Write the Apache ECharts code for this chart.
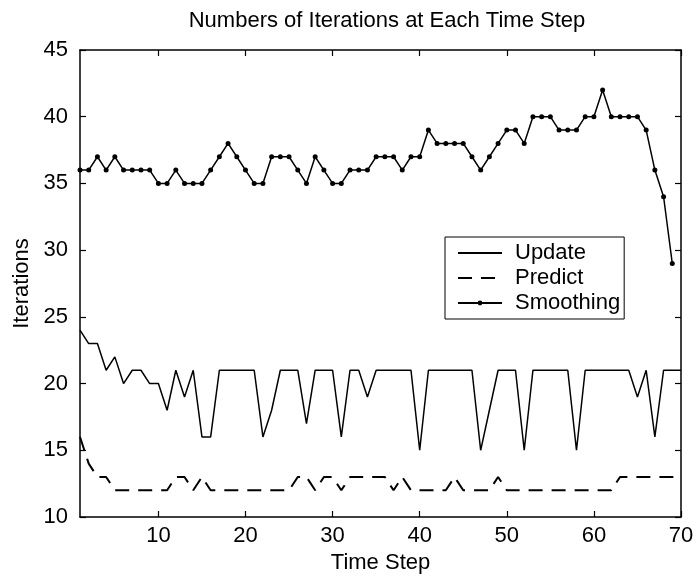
<!DOCTYPE html>
<html>
<head>
<meta charset="utf-8">
<script src="https://cdn.jsdelivr.net/npm/echarts@6/dist/echarts.min.js"></script>
<style>
html,body{margin:0;padding:0;background:#fff;}
#chart{width:700px;height:582px;}
</style>
</head>
<body>
<div id="chart"></div>
<script>
const timeSteps = [1,2,3,4,5,6,7,8,9,10,11,12,13,14,15,16,17,18,19,20,21,22,23,24,25,26,27,28,29,30,31,32,33,34,35,36,37,38,39,40,41,42,43,44,45,46,47,48,49,50,51,52,53,54,55,56,57,58,59,60,61,62,63,64,65,66,67,68,69,70];

const updateIter = [24,23,23,21,22,20,21,21,20,20,
  18,21,19,21,16,16,21,21,21,21,
  21,16,18,21,21,21,17,21,21,21,
  16,21,21,19,21,21,21,21,21,15,
  21,21,21,21,21,21,15,18,21,21,
  21,15,21,21,21,21,21,15,21,21,
  21,21,21,21,19,21,16,21,21,21];

const predictIter = [16,14,13,13,12,12,12,12,12,12,
  12,13,13,12,13,12,12,12,12,12,
  12,12,12,12,12,13,13,12,13,13,
  12,13,13,13,13,13,12,13,12,12,
  12,12,12,13,12,12,12,12,13,12,
  12,12,12,12,12,12,12,12,12,12,
  12,12,13,13,13,13,13,13,13,13];

const smoothingIter = [36,36,37,36,37,36,36,36,36,35,
  35,36,35,35,35,36,37,38,37,36,
  35,35,37,37,37,36,35,37,36,35,
  35,36,36,36,37,37,37,36,37,37,
  39,38,38,38,38,37,36,37,38,39,
  39,38,40,40,40,39,39,39,40,40,
  42,40,40,40,40,39,36,34,29];

const xTicks = [10,20,30,40,50,60,70];
const yTicks = [10,15,20,25,30,35,40,45];
const seriesNames = ['Update','Predict','Smoothing'];
const titleText = 'Numbers of Iterations at Each Time Step';
const xName = 'Time Step';
const yName = 'Iterations';

const FONT = 'Liberation Sans, Arial, Helvetica, sans-serif';
const pair = (ys) => ys.map((v, i) => [timeSteps[i], v]);

const chart = echarts.init(document.getElementById('chart'), null, {renderer: 'canvas'});

const axisCommon = {
  axisLine: {show: true, onZero: false, lineStyle: {color: '#000', width: 1.5}},
  splitLine: {show: false}
};

chart.setOption({
  animation: false,
  backgroundColor: '#fff',
  title: {
    text: titleText,
    left: 382, top: 5, textAlign: 'center',
    textStyle: {fontFamily: FONT, fontSize: 22, fontWeight: 'normal', color: '#000'}
  },
  grid: {left: 80, right: 19, top: 50, bottom: 65},
  legend: {
    orient: 'vertical',
    left: 445, top: 237,
    backgroundColor: '#fff',
    borderColor: '#000', borderWidth: 1,
    padding: [5, 4, 5, 12],
    itemWidth: 44, itemHeight: 6, itemGap: 3,
    textStyle: {fontFamily: FONT, fontSize: 22, color: '#000', padding: [0, 0, 0, 8]},
    data: [
      {name: seriesNames[0], itemStyle: {opacity: 0}},
      {name: seriesNames[1], itemStyle: {opacity: 0}},
      {name: seriesNames[2]}
    ]
  },
  xAxis: [
    Object.assign({}, axisCommon, {
      type: 'value', position: 'bottom', min: 1, max: 70,
      name: xName, nameLocation: 'middle', nameGap: 34,
      nameTextStyle: {fontFamily: FONT, fontSize: 22, color: '#000'},
      axisTick: {show: true, inside: true, length: 6, customValues: xTicks, lineStyle: {color: '#000', width: 1.2}},
      axisLabel: {show: true, customValues: xTicks, margin: 8, fontFamily: FONT, fontSize: 22, color: '#000'}
    }),
    Object.assign({}, axisCommon, {
      type: 'value', position: 'top', min: 1, max: 70,
      axisTick: {show: true, inside: true, length: 6, customValues: xTicks, lineStyle: {color: '#000', width: 1.2}},
      axisLabel: {show: false}
    })
  ],
  yAxis: [
    Object.assign({}, axisCommon, {
      type: 'value', position: 'left', min: 10, max: 45, interval: 5,
      name: yName, nameLocation: 'middle', nameGap: 47, nameRotate: 90,
      nameTextStyle: {fontFamily: FONT, fontSize: 22, color: '#000'},
      axisTick: {show: true, inside: true, length: 6, customValues: yTicks, lineStyle: {color: '#000', width: 1.2}},
      axisLabel: {show: true, customValues: yTicks, margin: 12, fontFamily: FONT, fontSize: 22, color: '#000'}
    }),
    Object.assign({}, axisCommon, {
      type: 'value', position: 'right', min: 10, max: 45, interval: 5,
      axisTick: {show: true, inside: true, length: 6, customValues: yTicks, lineStyle: {color: '#000', width: 1.2}},
      axisLabel: {show: false}
    })
  ],
  series: [
    {
      name: seriesNames[0], type: 'line', xAxisIndex: 0, yAxisIndex: 0,
      data: pair(updateIter), symbol: 'none',
      lineStyle: {color: '#000', width: 1.5, type: 'solid'},
      itemStyle: {color: '#000'}
    },
    {
      name: seriesNames[1], type: 'line', xAxisIndex: 0, yAxisIndex: 0,
      data: pair(predictIter), symbol: 'none',
      lineStyle: {color: '#000', width: 2, type: [14, 9]},
      itemStyle: {color: '#000'}
    },
    {
      name: seriesNames[2], type: 'line', xAxisIndex: 0, yAxisIndex: 0,
      data: pair(smoothingIter), symbol: 'circle', symbolSize: 5, showAllSymbol: true,
      lineStyle: {color: '#000', width: 1.5},
      itemStyle: {color: '#000'}
    }
  ]
});
</script>
</body>
</html>
